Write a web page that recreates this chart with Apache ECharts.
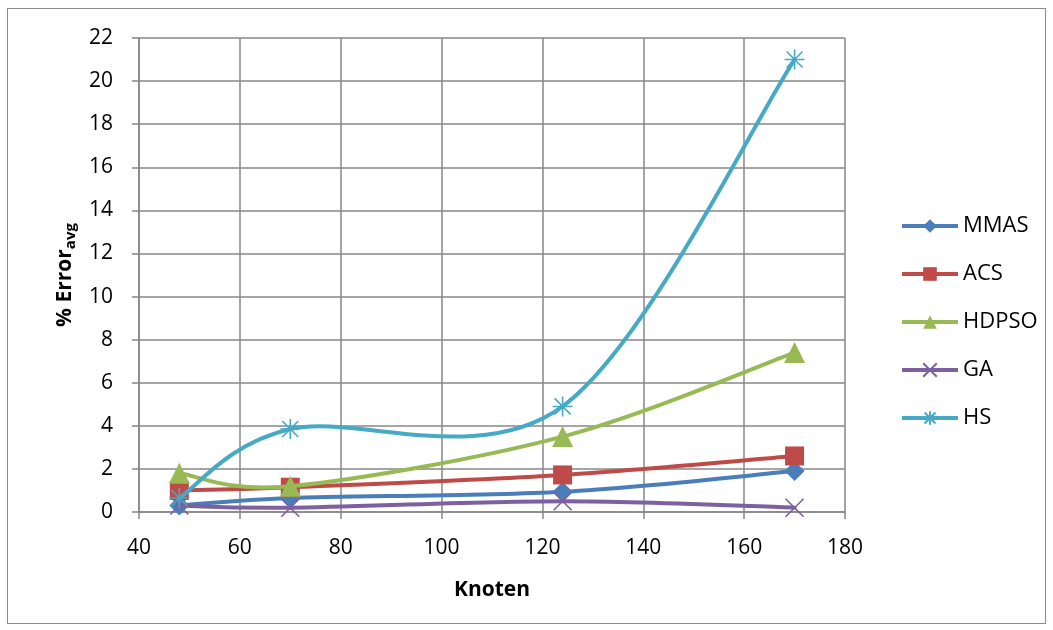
<!DOCTYPE html>
<html>
<head>
<meta charset="utf-8">
<script src="https://cdn.jsdelivr.net/npm/echarts@6/dist/echarts.min.js"></script>
<style>
  html, body { margin: 0; padding: 0; background: #fff; }
  #frame { position: absolute; left: 7px; top: 8px; width: 1039px; height: 616px; border: 1px solid #8c8c8c; box-sizing: border-box; }
  #chart { position: absolute; left: 0; top: 0; width: 1053px; height: 630px; }
</style>
</head>
<body>
<div id="frame"></div>
<div id="chart"></div>
<script>
// Number of nodes (Knoten)
const knoten = [48, 70, 124, 170];

// Average error in percent per algorithm
const mmas  = [0.3, 0.65, 0.94, 1.9];
const acs   = [1.0, 1.15, 1.72, 2.6];
const hdpso = [1.8, 1.2, 3.5, 7.4];
const ga    = [0.3, 0.2, 0.5, 0.2];
const hs    = [0.65, 3.85, 4.9, 21.0];

const seriesNames = ['MMAS', 'ACS', 'HDPSO', 'GA', 'HS'];
const seriesData = [mmas, acs, hdpso, ga, hs];
const colors = ['#4a7ebb', '#be4b48', '#98b954', '#7d60a0', '#46aac5'];

const crossPath = 'path://M0,0L10,10M10,0L0,10';
const starPath = 'path://M5,0L5,10M0,5L10,5M1,1L9,9M9,1L1,9';
const symbols = ['diamond', 'rect', 'triangle', crossPath, starPath];
const symbolSizes = [20, 19, 21, 18, 20];

const FONT = 'Open Sans, Noto Sans, sans-serif';

const chart = echarts.init(document.getElementById('chart'), null, { renderer: 'canvas' });

// Smoothed curve through the points (cubic Bezier, Catmull-Rom style control points)
function smoothCurveRenderer(values, color) {
  return function (params, api) {
    if (params.dataIndex !== 0) return null;
    const pts = knoten.map((x, j) => api.coord([x, values[j]]));
    const n = pts.length;
    const children = [];
    for (let i = 0; i < n - 1; i++) {
      const p0 = pts[i], p3 = pts[i + 1];
      const prev = pts[i - 1] || p0;
      const next = pts[i + 2] || p3;
      children.push({
        type: 'bezierCurve',
        shape: {
          x1: p0[0], y1: p0[1],
          x2: p3[0], y2: p3[1],
          cpx1: p0[0] + (p3[0] - prev[0]) / 6,
          cpy1: p0[1] + (p3[1] - prev[1]) / 6,
          cpx2: p3[0] - (next[0] - p0[0]) / 6,
          cpy2: p3[1] - (next[1] - p0[1]) / 6
        },
        style: { stroke: color, lineWidth: 4, fill: null, lineCap: 'round', lineJoin: 'round' }
      });
    }
    return { type: 'group', children: children };
  };
}

// Marker series (also drive the legend)
const markerSeries = seriesNames.map((name, i) => {
  const stroked = i >= 3;
  return {
    name: name,
    type: 'line',
    data: knoten.map((x, j) => [x, seriesData[i][j]]),
    symbol: symbols[i],
    symbolSize: symbolSizes[i],
    showAllSymbol: true,
    lineStyle: { color: colors[i], width: 0 },
    itemStyle: stroked
      ? { color: colors[i], borderColor: colors[i], borderWidth: 1.6 }
      : { color: colors[i], borderWidth: 0 },
    emphasis: { disabled: true },
    z: 3 + i * 2
  };
});

// Curve series
const curveSeries = seriesNames.map((name, i) => ({
  name: name,
  type: 'custom',
  coordinateSystem: 'cartesian2d',
  data: knoten.map((x, j) => [x, seriesData[i][j]]),
  encode: { x: 0, y: 1 },
  renderItem: smoothCurveRenderer(seriesData[i], colors[i]),
  silent: true,
  z: 2 + i * 2
}));

const axisGrey = '#878787';

chart.setOption({
  backgroundColor: 'transparent',
  animation: false,
  color: colors,
  grid: { left: 139, top: 38, width: 706, height: 474, containLabel: false },
  legend: {
    orient: 'vertical',
    left: 895,
    top: 210,
    itemWidth: 56,
    itemHeight: 17,
    itemGap: 26,
    data: seriesNames,
    lineStyle: { width: 4 },
    textStyle: { fontFamily: FONT, fontSize: 22, lineHeight: 22, color: '#000' }
  },
  xAxis: {
    type: 'value',
    min: 40,
    max: 180,
    interval: 20,
    name: 'Knoten',
    nameLocation: 'middle',
    nameGap: 68,
    nameTextStyle: { fontFamily: FONT, fontSize: 21, fontWeight: 'bold', color: '#000' },
    axisLine: { show: true, lineStyle: { color: axisGrey, width: 1.5 } },
    axisTick: { show: true, length: 7, lineStyle: { color: axisGrey, width: 1.5 } },
    axisLabel: { fontFamily: FONT, fontSize: 21, color: '#000', margin: 26 },
    splitLine: { show: true, lineStyle: { color: axisGrey, width: 1.5 } }
  },
  yAxis: {
    type: 'value',
    min: 0,
    max: 22,
    interval: 2,
    name: '{m|% Error}{s|avg}',
    nameLocation: 'middle',
    nameGap: 58,
    nameRotate: 90,
    nameTextStyle: {
      rich: {
        m: { fontFamily: FONT, fontSize: 21, fontWeight: 'bold', color: '#000' },
        s: { fontFamily: FONT, fontSize: 15, fontWeight: 'bold', color: '#000', padding: [11, 0, 0, 0] }
      }
    },
    axisLine: { show: true, lineStyle: { color: axisGrey, width: 1.5 } },
    axisTick: { show: true, length: 7, lineStyle: { color: axisGrey, width: 1.5 } },
    axisLabel: { fontFamily: FONT, fontSize: 21, color: '#000', margin: 26 },
    splitLine: { show: true, lineStyle: { color: axisGrey, width: 1.5 } }
  },
  series: markerSeries.concat(curveSeries)
});
</script>
</body>
</html>
